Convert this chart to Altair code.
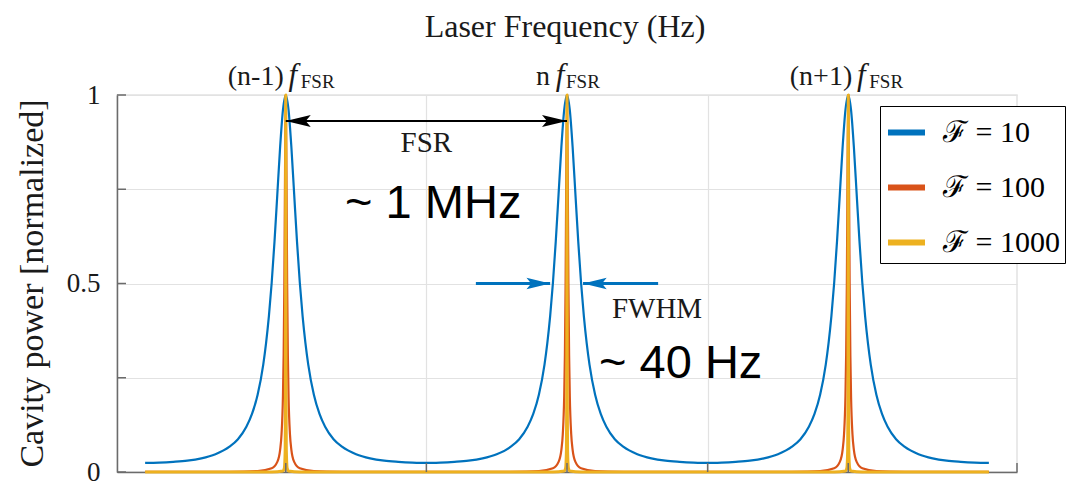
import altair as alt
import pandas as pd

# ---------------- data ----------------
series_names = ["ℱ = 10", "ℱ = 100", "ℱ = 1000"]
series_colors = ["#0072BD", "#D95319", "#EDB120"]
peak_centres = [0, 1, 2]          # (n-1), n, (n+1) in units of FSR

# half-profile of one resonance (offset from peak in FSR units -> normalized power)
f10_offsets = [0, 0.01, 0.02, 0.03, 0.04, 0.05, 0.06, 0.07, 0.08, 0.10, 0.12,
               0.14, 0.17, 0.20, 0.25, 0.30, 0.35, 0.40, 0.45, 0.50]
f10_values = [1.0, 0.96, 0.862, 0.736, 0.611, 0.502, 0.413, 0.342, 0.285, 0.205,
              0.154, 0.120, 0.087, 0.067, 0.047, 0.036, 0.030, 0.027, 0.025, 0.024]

f100_offsets = [0, 0.0025, 0.005, 0.0075, 0.01, 0.015, 0.02, 0.03, 0.05, 0.1,
                0.2, 0.3, 0.5]
f100_values = [1.0, 0.80, 0.50, 0.31, 0.20, 0.10, 0.059, 0.027, 0.010, 0.0026,
               0.0007, 0.0004, 0.0002]

f1000_offsets = [0, 0.00025, 0.0005, 0.001, 0.002, 0.005, 0.01, 0.05, 0.5]
f1000_values = [1.0, 0.80, 0.50, 0.20, 0.06, 0.01, 0.0025, 0.0001, 0.0]

y_tick_values = [0, 0.25, 0.5, 0.75, 1]
x_grid_values = [0, 0.5, 1, 1.5, 2]
x_tick_values = [0, 0.5, 1, 1.5, 2, 2.6]

peak_prefixes = ["(n-1)", "n", "(n+1)"]
title_text = "Laser Frequency (Hz)"
y_title = "Cavity power [normalized]"

fsr_arrow_x = [0, 1]
fsr_arrow_y = [0.931]
fwhm_arrow_start = [0.676, 1.324]
fwhm_arrow_tip = [0.940, 1.057]
fwhm_arrow_y = [0.5, 0.5]

# ---------------- build tables ----------------
rows = []
for name, offs, vals in zip(series_names,
                            [f10_offsets, f100_offsets, f1000_offsets],
                            [f10_values, f100_values, f1000_values]):
    for c in peak_centres:
        for sgn in (-1, 1):
            for d, v in zip(offs, vals):
                if sgn == -1 and d == 0:
                    continue
                rows.append({"series": name, "x": c + sgn * d, "y": v})
df = pd.DataFrame(rows)

W, H = 900, 377
XDOM = [-0.6, 2.6]
serif = "Liberation Serif"
sans = "Liberation Sans"
axis_grey = "#6b6b6b"
grid_grey = "#e2e2e2"
ink = "#1a1a1a"

xs = alt.Scale(domain=XDOM, nice=False, zero=False)
ys = alt.Scale(domain=[0, 1], nice=False, zero=False)

label_expr = ("datum.value == 1 ? '1' : datum.value == 0.5 ? '0.5' : "
              "datum.value == 0 ? '0' : ''")

x_axis = alt.Axis(values=x_grid_values, labels=False, ticks=False,
                  grid=True, gridColor=grid_grey, gridWidth=1.2,
                  domainColor=axis_grey, domainWidth=1.5)
y_axis = alt.Axis(values=y_tick_values, labelExpr=label_expr,
                  labelFont=serif, labelFontSize=27, labelColor=ink,
                  labelPadding=17, labelBaseline="middle",
                  ticks=False, grid=True, gridColor=grid_grey,
                  gridWidth=1.2, domainColor=axis_grey, domainWidth=1.5,
                  titleFont=serif, titleFontSize=34, titleFontWeight="normal",
                  titleColor=ink, titleX=-75, titleY=188,
                  titleAlign="center", titleBaseline="alphabetic")


def X(field="x:Q"):
    return alt.X(field, scale=xs, axis=x_axis, title=None)


def Y(field="y:Q"):
    return alt.Y(field, scale=ys, axis=y_axis, title=y_title)


color_enc = alt.Color(
    "series:N",
    scale=alt.Scale(domain=series_names, range=series_colors),
    legend=alt.Legend(title=None, orient="none", legendX=763, legendY=11,
                      strokeColor="black", fillColor="white", padding=5,
                      symbolType="stroke", symbolSize=1369,
                      symbolStrokeWidth=6, labelFont=serif,
                      labelFontSize=30, labelColor="black",
                      labelOffset=15, rowPadding=18))

line_layers = []
for name, sw in zip(series_names, [2.2, 2.2, 3.0]):
    line_layers.append(
        alt.Chart(df[df["series"] == name]).mark_line(
            interpolate="monotone", strokeWidth=sw).encode(
            x=X(), y=Y(), color=color_enc, order=alt.Order("x:Q")))

# inward ticks
yt = alt.Chart(pd.DataFrame({"y": y_tick_values})).mark_rule(
    color=axis_grey, strokeWidth=1.5).encode(
    y=Y(), x=alt.value(0), x2=alt.value(9))
xt = alt.Chart(pd.DataFrame({"x": x_tick_values})).mark_rule(
    color=axis_grey, strokeWidth=1.5).encode(
    x=X(), y=alt.value(H), y2=alt.value(H - 9))

# top title
title = alt.Chart(pd.DataFrame({"t": [title_text]})).mark_text(
    font=serif, fontSize=32, color=ink, align="center", baseline="alphabetic"
).encode(text="t:N", x=alt.value(448), y=alt.value(-58))

# peak labels: prefix, italic f, subscript FSR
label_layers = []
label_dx = [(-2, 7, 15), (-17, -7, -1), (4, 13, 21)]
for c, pre, (dp, df_, ds) in zip(peak_centres, peak_prefixes, label_dx):
    one = pd.DataFrame({"x": [c], "pre": [pre], "f": ["f"], "s": ["FSR"]})
    base = alt.Chart(one)
    label_layers.append(base.mark_text(font=serif, fontSize=28, color=ink,
                                       align="right", baseline="alphabetic",
                                       dx=dp).encode(
        x=X(), y=alt.value(-10), text="pre:N"))
    label_layers.append(base.mark_text(font=serif, fontSize=31, color=ink,
                                       fontStyle="italic", align="center",
                                       baseline="alphabetic", dx=df_).encode(
        x=X(), y=alt.value(-10), text="f:N"))
    label_layers.append(base.mark_text(font=serif, fontSize=19, color=ink,
                                       align="left", baseline="alphabetic",
                                       dx=ds).encode(
        x=X(), y=alt.value(-7), text="s:N"))

# FSR arrow
fsr_df = pd.DataFrame({"x": [fsr_arrow_x[0]], "x2": [fsr_arrow_x[1]],
                       "y": fsr_arrow_y})
fsr_line = alt.Chart(fsr_df).mark_rule(color="black", strokeWidth=2).encode(
    x=X(), x2="x2:Q", y=Y())
head_right = "M0,0 L-2,-0.48 L-1.6,0 L-2,0.48 Z"
head_left = "M0,0 L2,-0.48 L1.6,0 L2,0.48 Z"
fsr_h1 = alt.Chart(pd.DataFrame({"x": [fsr_arrow_x[0]], "y": fsr_arrow_y})).mark_point(
    shape=head_left, size=625, filled=True, color="black", opacity=1,
    strokeWidth=0).encode(x=X(), y=Y())
fsr_h2 = alt.Chart(pd.DataFrame({"x": [fsr_arrow_x[1]], "y": fsr_arrow_y})).mark_point(
    shape=head_right, size=625, filled=True, color="black", opacity=1,
    strokeWidth=0).encode(x=X(), y=Y())

# FWHM arrows
fw_df = pd.DataFrame({"x": fwhm_arrow_start, "x2": fwhm_arrow_tip, "y": fwhm_arrow_y})
fw_line = alt.Chart(fw_df).mark_rule(color="#0072BD", strokeWidth=3).encode(
    x=X(), x2="x2:Q", y=Y())
fw_h1 = alt.Chart(pd.DataFrame({"x": [fwhm_arrow_tip[0]], "y": [fwhm_arrow_y[0]]})).mark_point(
    shape=head_right, size=560, filled=True, color="#0072BD", opacity=1,
    strokeWidth=0).encode(x=X(), y=Y())
fw_h2 = alt.Chart(pd.DataFrame({"x": [fwhm_arrow_tip[1]], "y": [fwhm_arrow_y[1]]})).mark_point(
    shape=head_left, size=560, filled=True, color="#0072BD", opacity=1,
    strokeWidth=0).encode(x=X(), y=Y())

# text annotations
serif_notes = pd.DataFrame({"x": [0.5, 1.32], "y": [0.849, 0.4085],
                            "t": ["FSR", "FWHM"]})
serif_txt = alt.Chart(serif_notes).mark_text(
    font=serif, fontSize=29, color=ink, align="center", baseline="alphabetic"
).encode(x=X(), y=Y(), text="t:N")
sans_notes = pd.DataFrame({"x": [0.211, 1.114], "y": [0.674, 0.249],
                           "t": ["~ 1 MHz", "~ 40 Hz"]})
sans_txt = alt.Chart(sans_notes).mark_text(
    font=sans, fontSize=47, color="black", align="left", baseline="alphabetic"
).encode(x=X(), y=Y(), text="t:N")

chart = alt.layer(
    *line_layers, yt, xt, title, *label_layers, fsr_line, fsr_h1, fsr_h2,
    fw_line, fw_h1, fw_h2, serif_txt, sans_txt
).properties(
    width=W, height=H,
    autosize=alt.AutoSizeParams(type="none"),
    padding={"left": 117, "top": 95, "right": 49, "bottom": 9},
    background="white",
).configure_view(stroke=grid_grey, strokeWidth=1.5)

chart.save("out.html", embed_options={"renderer": "svg", "actions": False})
